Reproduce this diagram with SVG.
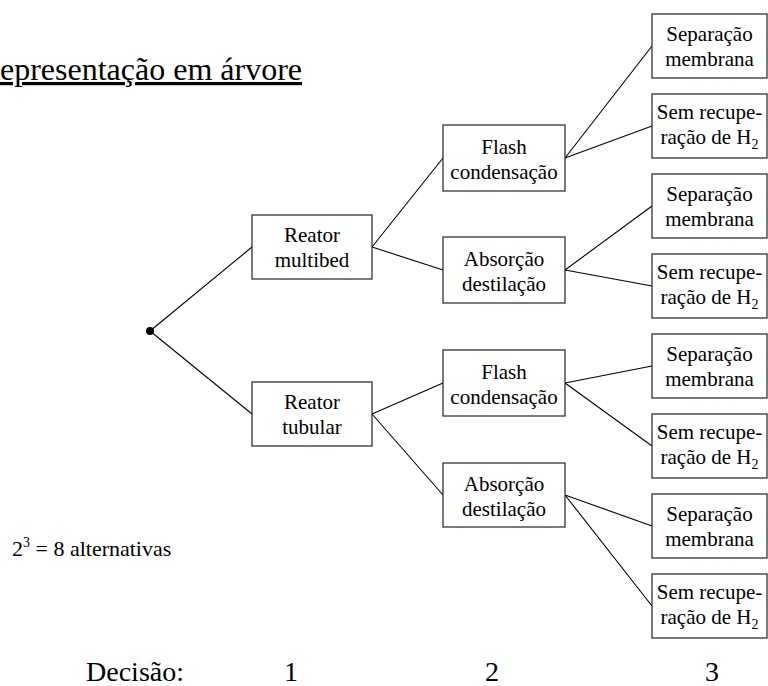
<svg xmlns="http://www.w3.org/2000/svg" width="768" height="686" viewBox="0 0 768 686">
<style>
text{font-family:"Liberation Serif","Times New Roman",serif;fill:#000}
.box{fill:#fff;stroke:#222;stroke-width:1.2}
.lbl{font-size:21px;text-anchor:middle}
.sub{font-size:14px}
.conn line{stroke:#000;stroke-width:1.1}
</style>
<rect width="768" height="686" fill="#fff"/>
<text x="302" y="80" font-size="32" text-anchor="end" text-decoration="underline">Representação em árvore</text>

<g class="conn" id="connectors">
<line x1="150" y1="331" x2="252" y2="247"/>
<line x1="150" y1="331" x2="252" y2="414"/>
<line x1="372" y1="247" x2="443" y2="158"/>
<line x1="372" y1="247" x2="443" y2="270"/>
<line x1="372" y1="414" x2="443" y2="383"/>
<line x1="372" y1="414" x2="443" y2="495"/>
<line x1="565" y1="158" x2="652" y2="46"/>
<line x1="565" y1="158" x2="652" y2="126"/>
<line x1="565" y1="270" x2="652" y2="206"/>
<line x1="565" y1="270" x2="652" y2="286"/>
<line x1="565" y1="383" x2="652" y2="366"/>
<line x1="565" y1="383" x2="652" y2="446"/>
<line x1="565" y1="495" x2="652" y2="526"/>
<line x1="565" y1="495" x2="652" y2="606"/>
</g>
<circle id="root" cx="150" cy="331" r="4" fill="#000"/>

<g id="reator-multibed"><rect class="box" x="252" y="215" width="120" height="64"/><text class="lbl" x="312" y="242">Reator</text><text class="lbl" x="312" y="267">multibed</text></g>
<g id="reator-tubular"><rect class="box" x="252" y="382" width="120" height="64"/><text class="lbl" x="312" y="409">Reator</text><text class="lbl" x="312" y="434">tubular</text></g>

<g id="flash-1"><rect class="box" x="443" y="125" width="122" height="66"/><text class="lbl" x="504" y="154">Flash</text><text class="lbl" x="504" y="179">condensação</text></g>
<g id="absorcao-1"><rect class="box" x="443" y="237" width="122" height="66"/><text class="lbl" x="504" y="266">Absorção</text><text class="lbl" x="504" y="291">destilação</text></g>
<g id="flash-2"><rect class="box" x="443" y="350" width="122" height="66"/><text class="lbl" x="504" y="379">Flash</text><text class="lbl" x="504" y="404">condensação</text></g>
<g id="absorcao-2"><rect class="box" x="443" y="463" width="122" height="64"/><text class="lbl" x="504" y="491">Absorção</text><text class="lbl" x="504" y="516">destilação</text></g>

<g id="sep-1"><rect class="box" x="652" y="14" width="115" height="64"/><text class="lbl" x="709.5" y="41">Separação</text><text class="lbl" x="709.5" y="66">membrana</text></g>
<g id="sem-1"><rect class="box" x="652" y="94" width="115" height="64"/><text class="lbl" x="709.5" y="119">Sem recupe-</text><text class="lbl" x="709.5" y="144">ração de H<tspan class="sub" dy="5">2</tspan></text></g>
<g id="sep-2"><rect class="box" x="652" y="174" width="115" height="64"/><text class="lbl" x="709.5" y="201">Separação</text><text class="lbl" x="709.5" y="226">membrana</text></g>
<g id="sem-2"><rect class="box" x="652" y="254" width="115" height="64"/><text class="lbl" x="709.5" y="279">Sem recupe-</text><text class="lbl" x="709.5" y="304">ração de H<tspan class="sub" dy="5">2</tspan></text></g>
<g id="sep-3"><rect class="box" x="652" y="334" width="115" height="64"/><text class="lbl" x="709.5" y="361">Separação</text><text class="lbl" x="709.5" y="386">membrana</text></g>
<g id="sem-3"><rect class="box" x="652" y="414" width="115" height="64"/><text class="lbl" x="709.5" y="439">Sem recupe-</text><text class="lbl" x="709.5" y="464">ração de H<tspan class="sub" dy="5">2</tspan></text></g>
<g id="sep-4"><rect class="box" x="652" y="494" width="115" height="64"/><text class="lbl" x="709.5" y="521">Separação</text><text class="lbl" x="709.5" y="546">membrana</text></g>
<g id="sem-4"><rect class="box" x="652" y="574" width="115" height="64"/><text class="lbl" x="709.5" y="599">Sem recupe-</text><text class="lbl" x="709.5" y="624">ração de H<tspan class="sub" dy="5">2</tspan></text></g>

<text x="12" y="556" font-size="22">2<tspan font-size="14" dy="-9">3</tspan><tspan dy="9"> = 8 alternativas</tspan></text>

<text x="184" y="681" font-size="28" text-anchor="end">Decisão:</text>
<text x="291" y="681" font-size="28" text-anchor="middle">1</text>
<text x="492" y="681" font-size="28" text-anchor="middle">2</text>
<text x="712" y="681" font-size="28" text-anchor="middle">3</text>
</svg>
